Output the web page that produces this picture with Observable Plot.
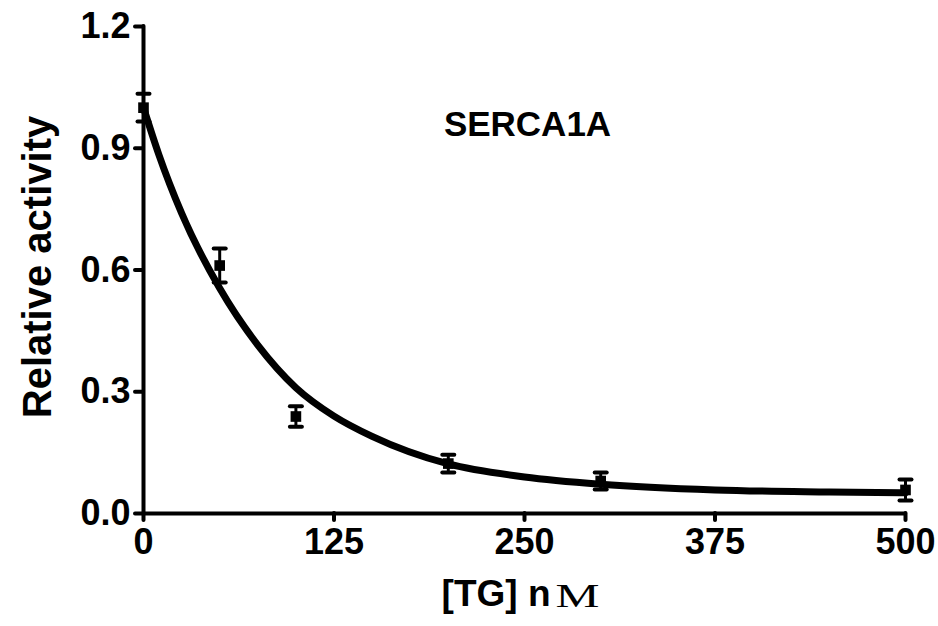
<!DOCTYPE html>
<html><head><meta charset="utf-8">
<script src="https://cdn.jsdelivr.net/npm/d3@7"></script>
<script src="https://cdn.jsdelivr.net/npm/@observablehq/plot@0.6"></script>
<style>
html,body{margin:0;padding:0;background:#fff;}
#chart svg{display:block;}
</style></head><body><div id="chart"></div>
<script>
const xTicks = [0, 125, 250, 375, 500];
const yTicks = [0, 0.3, 0.6, 0.9, 1.2];
const tgConc = [0, 50, 100, 200, 300, 500];
const activity = [1.0, 0.611, 0.239, 0.123, 0.08, 0.058];
const sem = [0.034, 0.042, 0.025, 0.022, 0.021, 0.026];
const fitConc = [0, 10, 25, 50, 75, 100, 125, 150, 200, 250, 300, 375, 450, 500];
const fitActivity = [1.0, 0.885, 0.74, 0.555, 0.415, 0.31, 0.24, 0.19, 0.122, 0.09, 0.072, 0.058, 0.053, 0.051];
const panelTitle = "SERCA1A";
const yLabel = "Relative activity";
const xLabelMain = "[TG] n";
const xLabelUnit = "M";

const points = tgConc.map((x, i) => ({x, y: activity[i], lo: activity[i] - sem[i], hi: activity[i] + sem[i]}));
const fit = fitConc.map((x, i) => ({x, y: fitActivity[i]}));

const capSymbol = {draw(ctx, size) { const r = Math.sqrt(size / Math.PI); ctx.moveTo(-r, 0); ctx.lineTo(r, 0); }};
const FONT = "Liberation Sans, Arial, sans-serif";

const chart = Plot.plot({
  width: 938,
  height: 626,
  marginLeft: 143,
  marginRight: 33,
  marginTop: 26,
  marginBottom: 113,
  style: {fontFamily: FONT, color: "black", background: "white"},
  x: {domain: [0, 500]},
  y: {domain: [0, 1.2]},
  marks: [
    Plot.ruleX(points, {x: "x", y1: "lo", y2: "hi", stroke: "black", strokeWidth: 3}),
    Plot.dot(points, {x: "x", y: "hi", symbol: capSymbol, r: 6, stroke: "black", fill: "none", strokeWidth: 4, strokeLinecap: "round"}),
    Plot.dot(points, {x: "x", y: "lo", symbol: capSymbol, r: 6, stroke: "black", fill: "none", strokeWidth: 4, strokeLinecap: "round"}),
    Plot.dot(points, {x: "x", y: "y", symbol: "square", r: 6, fill: "black", stroke: "none"}),
    Plot.line(fit, {x: "x", y: "y", curve: "monotone-x", stroke: "black", strokeWidth: 7}),
    Plot.axisX({ticks: xTicks, tickSize: 7, tickPadding: 8, strokeWidth: 4, strokeLinecap: "round", fontSize: 36, fontWeight: "bold", fontFamily: FONT, label: null}),
    Plot.axisY({ticks: yTicks, tickSize: 8, tickPadding: 5, strokeWidth: 4, strokeLinecap: "round", fontSize: 36, fontWeight: "bold", fontFamily: FONT, tickFormat: d3.format(".1f"), label: null}),
    Plot.ruleY([0], {stroke: "black", strokeWidth: 4, strokeLinecap: "round"}),
    Plot.ruleX([0], {stroke: "black", strokeWidth: 4, strokeLinecap: "round"}),
    Plot.text([panelTitle], {text: d => d, frameAnchor: "top", dx: 3, dy: 85, fontSize: 35, fontWeight: "bold", fontFamily: FONT, fill: "black"}),
    Plot.text([yLabel], {text: d => d, frameAnchor: "left", textAnchor: "middle", rotate: -90, dx: -105, dy: -3, fontSize: 40, fontWeight: "bold", fontFamily: FONT, fill: "black"}),
    Plot.text([xLabelMain], {text: d => d, frameAnchor: "bottom", textAnchor: "end", dx: 26, dy: 92.5, fontSize: 37, fontWeight: "bold", fontFamily: FONT, fill: "black"}),
    Plot.text([xLabelUnit], {text: d => d, frameAnchor: "bottom", textAnchor: "start", dx: 31, dy: 93.4, fontSize: 33, fontWeight: "normal", fontFamily: "Liberation Serif, Times New Roman, serif", fill: "black"})
  ]
});
document.getElementById("chart").appendChild(chart);
d3.select(chart).selectAll("text").filter(function() { return this.textContent === xLabelUnit; })
  .attr("textLength", 44).attr("lengthAdjust", "spacingAndGlyphs");
</script>
</body></html>
